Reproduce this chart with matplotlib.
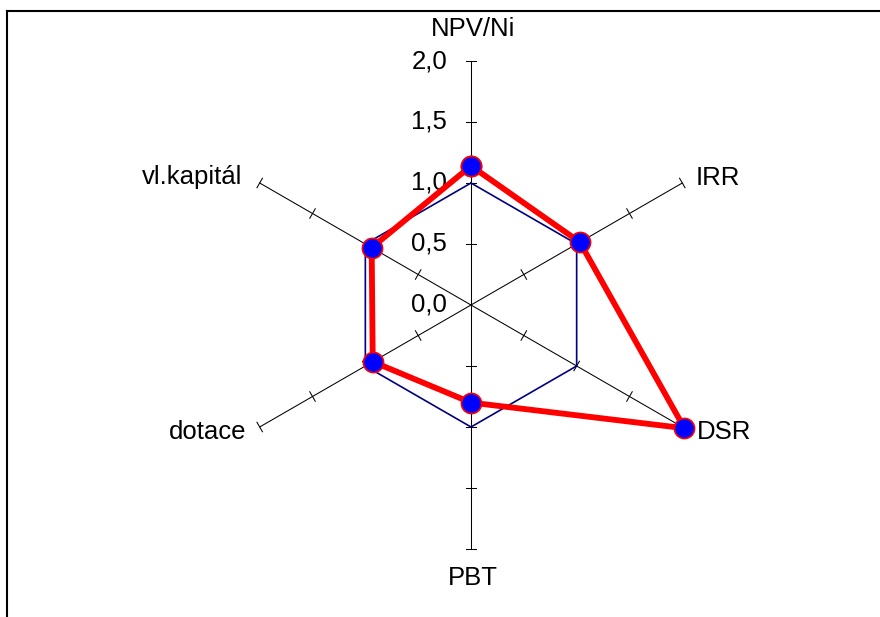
import numpy as np
import matplotlib.pyplot as plt
from matplotlib.lines import Line2D

plt.rcParams['font.family'] = ['Liberation Sans', 'DejaVu Sans']

# radar data
categories = ['NPV/Ni', 'IRR', 'DSR', 'PBT', 'dotace', 'vl.kapitál']
reference = [1.0, 1.0, 1.0, 1.0, 1.0, 1.0]
project = [1.14, 1.03, 2.02, 0.80, 0.93, 0.94]
tick_values = [0.0, 0.5, 1.0, 1.5, 2.0]
tick_labels = ['0,0', '0,5', '1,0', '1,5', '2,0']

# axis directions, clockwise from the top
angles = np.deg2rad([90, 30, -30, -90, -150, 150])
r_max = 2.0

# layout in pixels: centre of the web and length of one unit
cx_px, cy_px, unit = 471, 305, 122
W, H = 880, 617
fs = 18.5


def to_xy(values):
    v = np.asarray(values, dtype=float)
    x = v * np.cos(angles)
    y = v * np.sin(angles)
    return np.append(x, x[0]), np.append(y, y[0])


fig = plt.figure(figsize=(W / 100, H / 100), dpi=100)
ax = fig.add_axes([0, 0, 1, 1])
ax.set_xlim(-cx_px / unit, (W - cx_px) / unit)
ax.set_ylim(-(H - cy_px) / unit, cy_px / unit)
ax.set_aspect('equal')
ax.axis('off')

# spokes with tick marks every 0.5
tick_half = 0.045
for a in angles:
    ax.plot([0, r_max * np.cos(a)], [0, r_max * np.sin(a)], color='black', lw=0.75)
    px, py = -np.sin(a), np.cos(a)
    for t in tick_values[1:]:
        tx, ty = t * np.cos(a), t * np.sin(a)
        ax.plot([tx - px * tick_half, tx + px * tick_half],
                [ty - py * tick_half, ty + py * tick_half], color='black', lw=0.75)

# value labels along the vertical axis
for t, lab in zip(tick_values, tick_labels):
    ax.annotate(lab, (0, t), xytext=(-24, 0), textcoords='offset pixels',
                ha='right', va='center', fontsize=fs)

# category labels
label_offsets = [(2, 32, 'center'), (13, 5, 'left'), (15, -5, 'left'),
                 (2, -29, 'center'), (-13, -5, 'right'), (-17, 6, 'right')]
for a, name, (dx, dy, ha) in zip(angles, categories, label_offsets):
    ax.annotate(name, (r_max * np.cos(a), r_max * np.sin(a)), xytext=(dx, dy),
                textcoords='offset pixels', ha=ha, va='center', fontsize=fs)

# reference hexagon
rx, ry = to_xy(reference)
ax.plot(rx, ry, color='#000080', lw=1.2)

# project series
sx, sy = to_xy(project)
ax.plot(sx, sy, color='red', lw=4.2, marker='o', markersize=14.5,
        markerfacecolor='#0000ff', markeredgecolor='red', markeredgewidth=1.2,
        zorder=5)

# chart area frame
fig.add_artist(Line2D([7 / W, 1], [1 - 11 / H, 1 - 11 / H],
                      color='black', lw=1.5, transform=fig.transFigure))
fig.add_artist(Line2D([7 / W, 7 / W], [0, 1 - 11 / H],
                      color='black', lw=1.5, transform=fig.transFigure))

fig.savefig('out.png', dpi=100)
